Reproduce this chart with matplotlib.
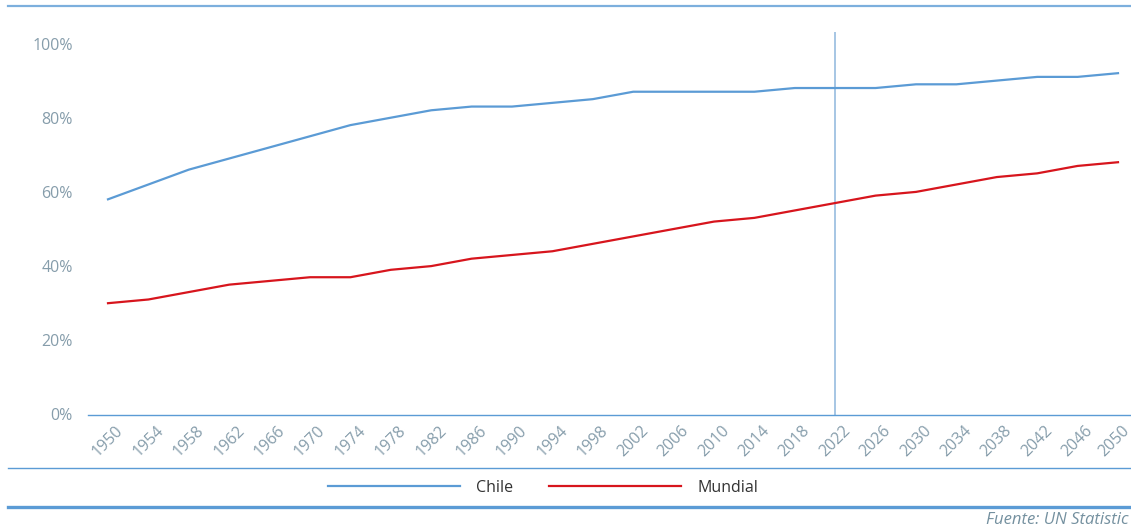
import matplotlib.pyplot as plt
import matplotlib.transforms as mtransforms
from matplotlib.lines import Line2D

years = list(range(1950, 2051, 4))
chile = [58, 62, 66, 69, 72, 75, 78, 80, 82, 83, 83, 84, 85,
         87, 87, 87, 87, 88, 88, 88, 89, 89, 90, 91, 91, 92]
mundial = [30, 31, 33, 35, 36, 37, 37, 39, 40, 42, 43, 44, 46,
           48, 50, 52, 53, 55, 57, 59, 60, 62, 64, 65, 67, 68]
y_ticks = [0, 20, 40, 60, 80, 100]
marker_year = 2022

BLUE = '#5b9bd5'
RED = '#d7151d'
LIGHT = '#9fc2e2'
TICK = '#869dab'

plt.rcParams['font.family'] = ['Open Sans', 'DejaVu Sans']

W, H = 1131, 529
fig = plt.figure(figsize=(W / 100, H / 100), dpi=100)

# plot area in pixels: left 88, right = edge, 0% at y=414.5, top at y=32
left, bottom, top = 88, 414.5, 32
ax = fig.add_axes([left / W, 1 - bottom / H, 1 - left / W, (bottom - top) / H])

px_per_year = (1118 - 108) / 100
ax.set_xlim(1950 - (108 - left) / px_per_year, 2050 + (W - 1118) / px_per_year)
ax.set_ylim(0, (bottom - top) / 3.71)

ax.plot(years, chile, color=BLUE, lw=1.6, label='Chile')
ax.plot(years, mundial, color=RED, lw=1.6, label='Mundial')
ax.axvline(marker_year, color=LIGHT, lw=1.3, zorder=1)

for side in ['top', 'right', 'left']:
    ax.spines[side].set_visible(False)
ax.spines['bottom'].set_color(BLUE)
ax.spines['bottom'].set_linewidth(1.0)

ax.set_yticks(y_ticks)
ax.set_yticklabels([f'{v}%' for v in y_ticks])
ax.set_xticks(years)
ax.set_xticklabels([str(y) for y in years], rotation=45, ha='center', va='top')
ax.tick_params(axis='y', length=0, pad=11, labelsize=11.5, labelcolor=TICK)
ax.tick_params(axis='x', length=0, pad=6, labelsize=11.5, labelcolor=TICK)

# keep the last year label inside the canvas
last = ax.get_xticklabels()[-1]
last.set_transform(last.get_transform() +
                   mtransforms.ScaledTranslation(-4 / 100, 0, fig.dpi_scale_trans))

# horizontal rules
fig.add_artist(Line2D([8 / W, 1], [1 - 6 / H] * 2, color=BLUE, lw=1.6, alpha=0.8))
fig.add_artist(Line2D([8 / W, 1], [1 - 468 / H] * 2, color=BLUE, lw=1.0))
fig.add_artist(Line2D([8 / W, 1], [1 - 507 / H] * 2, color=BLUE, lw=2.4))

fig.legend(loc='center', bbox_to_anchor=(543 / W, 1 - 488 / H), ncol=2, frameon=False,
           fontsize=11.5, handlelength=8.3, handletextpad=1.0, columnspacing=2.2,
           labelcolor='#333333')

fig.text(1 - 2 / W, 1 - 520 / H, 'Fuente: UN Statistic', ha='right', va='center',
         fontsize=12, style='italic', color='#74909f')

fig.savefig('out.png', dpi=100)
